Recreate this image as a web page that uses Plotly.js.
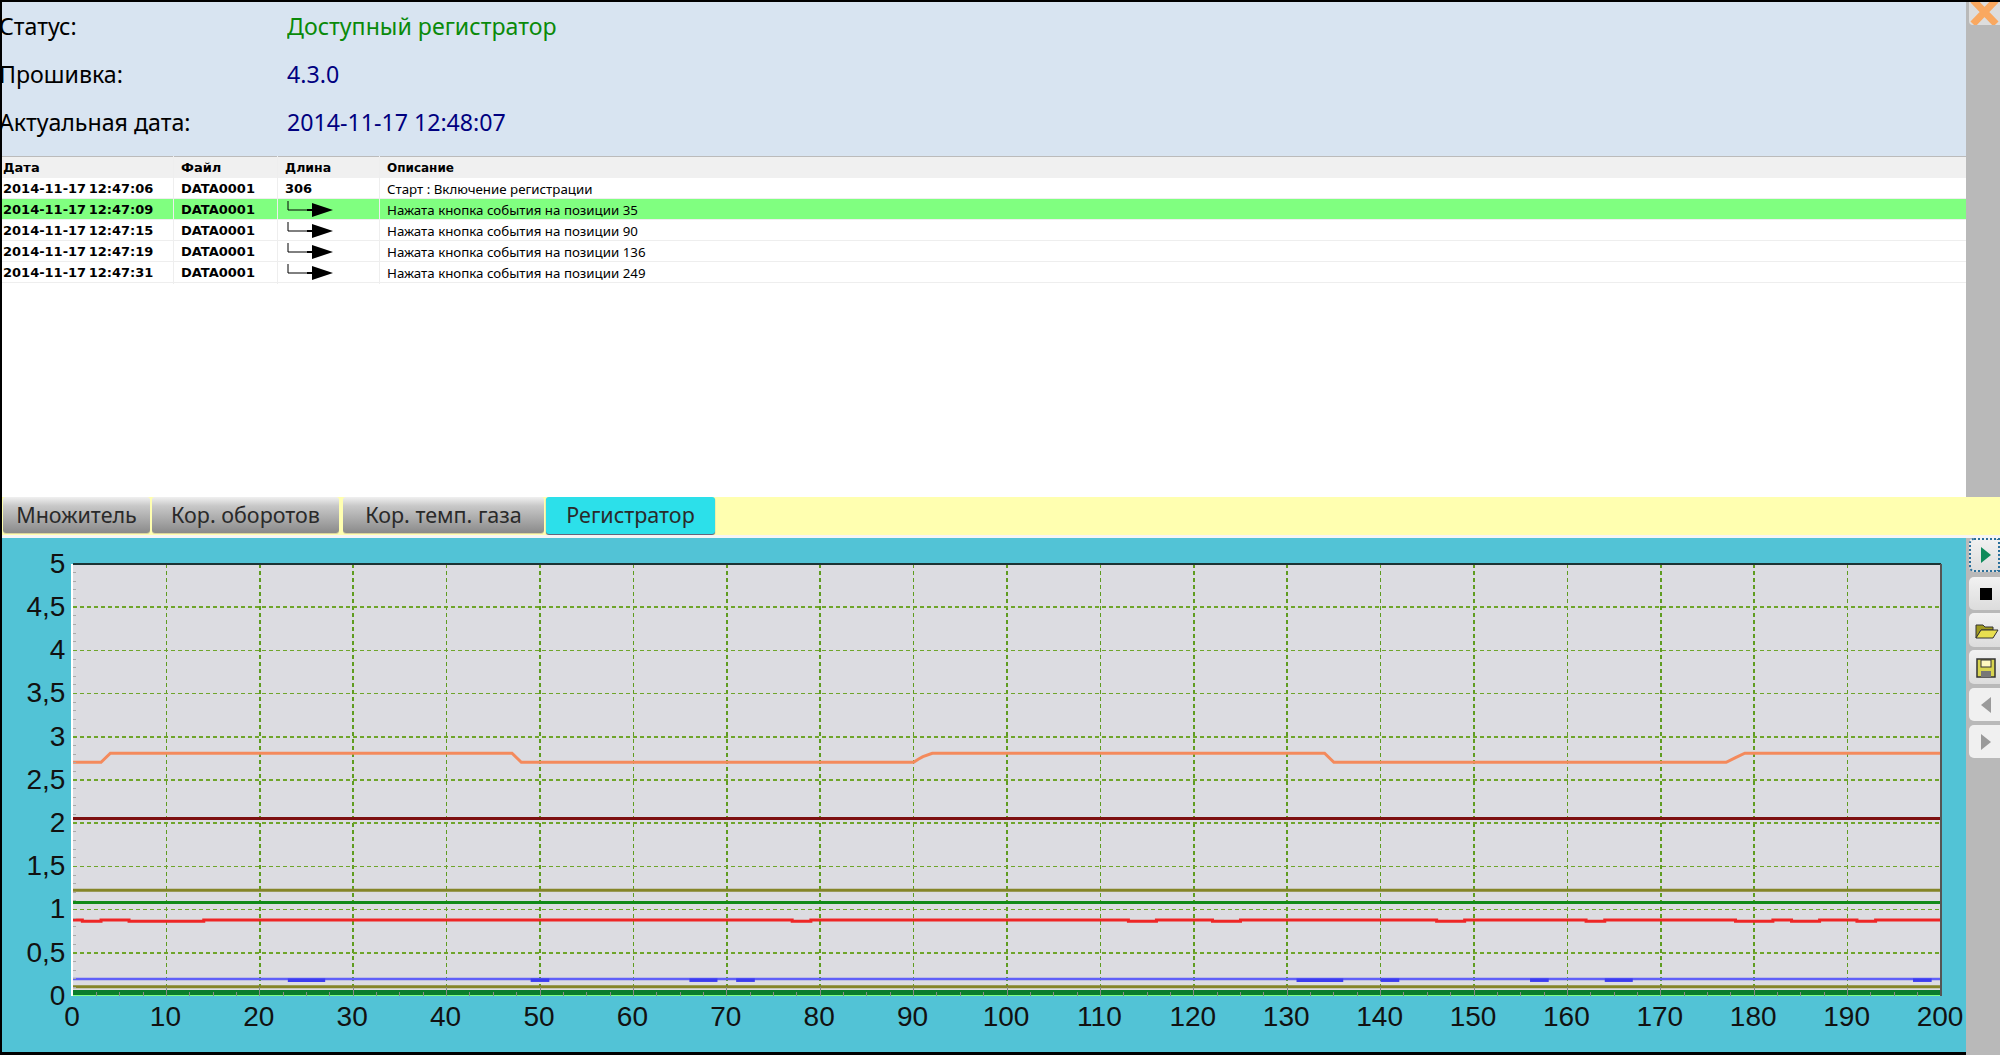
<!DOCTYPE html>
<html><head><meta charset="utf-8">
<script src="https://cdn.plot.ly/plotly-3.0.1.min.js"></script>
<style>
html,body{margin:0;padding:0;width:2000px;height:1055px;overflow:hidden;background:#000;font-family:"Noto Sans",sans-serif}
.a{position:absolute;white-space:nowrap}
.lab,.val{font-size:24px;transform:scaleX(.965);transform-origin:left center}
.lab{color:#000;left:-1px}
.val{left:287px}
.cell{font-family:"Noto Sans",sans-serif;font-size:13.3px;color:#000;height:21px;line-height:22px}
.b{font-family:"DejaVu Sans",sans-serif;font-size:13px;font-weight:700}
.tab{top:497px;height:36px;line-height:35px;text-align:center;font-size:21.5px;color:#2a2a2a;background:linear-gradient(#f0f0f0,#c8c8c8 25%,#8a8a8a);border-radius:3px;box-shadow:0 1px 0 #d9d3a0}
.btn{left:1969px;width:31px;background:linear-gradient(#f2f2f2,#dcdcdc);border-radius:5px 0 0 5px}
.btn svg{position:absolute;left:0;top:0}
</style></head><body>
<div class="a" style="left:2px;top:2px;width:1964px;height:154px;background:#d8e4f1"></div>
<div class="a lab" style="top:9px">Статус:</div>
<div class="a val" style="top:9px;color:#0a8a0a">Доступный регистратор</div>
<div class="a lab" style="top:57px">Прошивка:</div>
<div class="a val" style="top:57px;color:#000080">4.3.0</div>
<div class="a lab" style="top:105px">Актуальная дата:</div>
<div class="a val" style="top:105px;color:#000080">2014-11-17 12:48:07</div>
<div class="a" style="left:2px;top:156px;width:1964px;height:341px;background:#fff"></div>
<div class="a" style="left:2px;top:156px;width:1964px;height:22px;background:#f0f0f0;border-top:1px solid #bbb;box-sizing:border-box"></div>
<div id="rows"></div>
<div class="a" style="left:2px;top:497px;width:1998px;height:38px;background:#ffffb0"></div>
<div class="a tab" style="left:3px;width:147px">Множитель</div>
<div class="a tab" style="left:152px;width:187px">Кор. оборотов</div>
<div class="a tab" style="left:343px;width:201px">Кор. темп. газа</div>
<div class="a tab" style="left:546px;width:169px;background:#2ce0ea;height:37px;box-shadow:0 1px 1px #557">Регистратор</div>
<div class="a" style="left:2px;top:535px;width:1998px;height:3px;background:#f5f5f5"></div>
<div class="a" style="left:1966px;top:2px;width:34px;height:495px;background:#b9b9b9"></div>
<div class="a" style="left:1966px;top:538px;width:34px;height:517px;background:#b9b9b9"></div>
<div class="a" style="left:1969px;top:2px;width:31px;height:23px;background:#ddd;overflow:hidden;border-radius:0 0 0 4px"><svg width="31" height="23"><path d="M4 -2 L27 22 M27 -2 L4 22" stroke="#f9a860" stroke-width="7"/></svg></div>
<div id="chart" class="a" style="left:2px;top:538px;width:1964px;height:514px"></div>
<div class="a btn" style="top:538px;height:34px;outline:2px dotted #2a6f9a;outline-offset:-2px"><svg width="31" height="34"><path d="M12 9 L22 17 L12 25Z" fill="#0f8a5a"/></svg></div>
<div class="a btn" style="top:577px;height:33px"><svg width="31" height="33"><rect x="11" y="11" width="12" height="12" fill="#000"/></svg></div>
<div class="a btn" style="top:613px;height:34px"><svg width="31" height="34"><path d="M7 25 L7 12 L14 12 L16 14 L24 14 L24 17 L12 17Z" fill="#a09a20" stroke="#333"/><path d="M7 25 L12 17 L29 17 L24 25Z" fill="#e8df50" stroke="#333"/></svg></div>
<div class="a btn" style="top:650px;height:34px"><svg width="31" height="34"><rect x="8" y="9" width="18" height="18" fill="#d8d450" stroke="#333" stroke-width="1.5"/><rect x="12" y="10" width="10" height="7" fill="#fff8c0" stroke="#333"/><rect x="12" y="21" width="10" height="6" fill="#777"/></svg></div>
<div class="a btn" style="top:688px;height:33px;background:#f0f0f0"><svg width="31" height="33"><path d="M22 9 L12 17 L22 25Z" fill="#9a9a9a"/></svg></div>
<div class="a btn" style="top:725px;height:33px;background:#f0f0f0"><svg width="31" height="33"><path d="M12 9 L22 17 L12 25Z" fill="#9a9a9a"/></svg></div>
<div class="a" style="left:0;top:0;width:2px;height:1055px;background:#000"></div>
<script>
// ---- table ----
const tableDates = ["2014-11-17 12:47:06","2014-11-17 12:47:09","2014-11-17 12:47:15","2014-11-17 12:47:19","2014-11-17 12:47:31"];
const tableFiles = ["DATA0001","DATA0001","DATA0001","DATA0001","DATA0001"];
const tableLens  = ["306","","","",""];
const tableDescs = ["Старт : Включение регистрации","Нажата кнопка события на позиции 35","Нажата кнопка события на позиции 90","Нажата кнопка события на позиции 136","Нажата кнопка события на позиции 249"];
const tableHead  = ["Дата","Файл","Длина","Описание"];

// ---- chart ----
const orangeX = [0,3,4,47,48,90,90.5,91,92,134,135,177,178,179,200];
const orangeY = [2.705,2.705,2.81,2.81,2.705,2.705,2.74,2.77,2.81,2.81,2.705,2.705,2.76,2.81,2.81];
const darkRedX = [0,200];
const darkRedY = [2.055,2.055];
const oliveHiX = [0,200];
const oliveHiY = [1.225,1.225];
const greenX = [0,200];
const greenY = [1.083,1.083];
const redX = [0,1,1,3,3,6,6,14,14,77,77,79,79,113,113,116,116,122,122,125,125,146,146,149,149,162,162,164,164,178,178,182,182,184,184,187,187,191,191,193,193,200];
const redY = [.88,.88,.865,.865,.88,.88,.865,.865,.88,.88,.865,.865,.88,.88,.865,.865,.88,.88,.865,.865,.88,.88,.865,.865,.88,.88,.865,.865,.88,.88,.865,.865,.88,.88,.865,.865,.88,.88,.865,.865,.88,.88];
const blueX = [0,200];
const blueY = [.197,.197];
const blueLowX = [23,27,null,49,51,null,66,69,null,71,73,null,131,136,null,140,142,null,156,158,null,164,167,null,197,199];
const blueLowY = [.183,.183,null,.183,.183,null,.183,.183,null,.183,.183,null,.183,.183,null,.183,.183,null,.183,.183,null,.183,.183,null,.183,.183];
const oliveLoX = [0,200];
const oliveLoY = [.108,.108];
const darkGreenX = [0,200];
const darkGreenY = [.04,.04];
const lightGreenX = [0,200];
const lightGreenY = [.005,.005];
const xMax = 200, yMax = 5;

let h = "";
const cols=[3,181,285,387];
const headSizes=[13,13,12.5,12];
tableHead.forEach((t,i)=>{h+=`<div class="a cell b" style="top:157px;left:${cols[i]}px;font-size:${headSizes[i]}px">${t}</div>`});
const arrow=`<svg width="48" height="21"><path d="M1 2 V11 H20" fill="none" stroke="#000"/><path d="M20 11 H28" stroke="#000" stroke-width="2"/><path d="M25 4 L46 11 L25 18Z" fill="#000"/></svg>`;
tableDates.forEach((d,i)=>{
  const top=178+i*21;
  if(i==1)h+=`<div class="a" style="left:2px;top:${top}px;width:1964px;height:21px;background:#80ff80"></div>`;
  h+=`<div class="a" style="left:2px;top:${top+20}px;width:1964px;height:1px;background:#eee"></div>`;
  h+=`<div class="a cell b" style="top:${top}px;left:3px;word-spacing:-2px">${d}</div>`;
  h+=`<div class="a cell b" style="top:${top}px;left:181px">${tableFiles[i]}</div>`;
  h+= tableLens[i]?`<div class="a cell b" style="top:${top}px;left:285px">${tableLens[i]}</div>`:`<div class="a" style="top:${top}px;left:287px;height:21px">${arrow}</div>`;
  h+=`<div class="a cell" style="top:${top}px;left:387px">${tableDescs[i]}</div>`;
});
cols.slice(1).forEach(c=>{h+=`<div class="a" style="left:${c-8}px;top:156px;width:1px;height:128px;background:#eee"></div>`});
document.getElementById("rows").innerHTML=h;

const line=(x,y,color,width)=>({x,y,type:"scatter",mode:"lines",line:{color,width},hoverinfo:"skip",showlegend:false,connectgaps:false});
const lightTrace=line(lightGreenX,lightGreenY,"#80ff80",3.5);
lightTrace.cliponaxis=false;
const traces=[
  lightTrace,
  line(darkGreenX,darkGreenY,"#0a7d2c",5),
  line(oliveLoX,oliveLoY,"#858528",3),
  line(blueX,blueY,"#6060f8",2.5),
  line(blueLowX,blueLowY,"#3c3cf0",3.5),
  line(redX,redY,"#ee2626",3),
  line(greenX,greenY,"#118a18",3),
  line(oliveHiX,oliveHiY,"#858528",3),
  line(darkRedX,darkRedY,"#7d1010",3),
  line(orangeX,orangeY,"#f48a5c",3)
];
const layout={
  width:1964,height:514,
  margin:{l:71,r:25,t:26,b:56,pad:0},
  paper_bgcolor:"#52c3d6",plot_bgcolor:"#dcdce1",
  separators:", ",showlegend:false,
  font:{family:'"Liberation Sans",sans-serif',size:28,color:"#111"},
  xaxis:{range:[0,xMax],dtick:10,tick0:0,fixedrange:true,zeroline:false,
    showgrid:true,gridcolor:"#5f9c20",griddash:"4px,3px",gridwidth:1.5,
    ticks:"inside",ticklen:9,tickcolor:"#888",tickwidth:1,
    ticklabelstandoff:1,ticklabelshift:-1,
    minor:{dtick:2.5,ticks:"inside",ticklen:4,tickcolor:"#888",showgrid:false},
    showline:false,tickfont:{size:28,color:"#111"}},
  yaxis:{range:[0,yMax],dtick:.5,tick0:0,fixedrange:true,zeroline:false,
    showgrid:true,gridcolor:"#6fa52a",griddash:"4px,3px",gridwidth:1.5,
    ticks:"inside",ticklen:0,ticklabelshift:-1,
    minor:{dtick:.1,ticks:"inside",ticklen:3,tickcolor:"#aaa",showgrid:false},
    showline:true,linecolor:"#ffffff",linewidth:2,tickfont:{size:28,color:"#111"},tickformat:".1~f"},
  shapes:[
    {type:"line",xref:"paper",yref:"paper",x0:0,x1:1,y0:1,y1:1,line:{color:"#1c3434",width:2},layer:"above"},
    {type:"line",xref:"paper",yref:"paper",x0:1,x1:1,y0:0,y1:1,line:{color:"#555",width:2},layer:"above"}
  ]
};
Plotly.newPlot("chart",traces,layout,{staticPlot:true,displayModeBar:false});
</script>
</body></html>
